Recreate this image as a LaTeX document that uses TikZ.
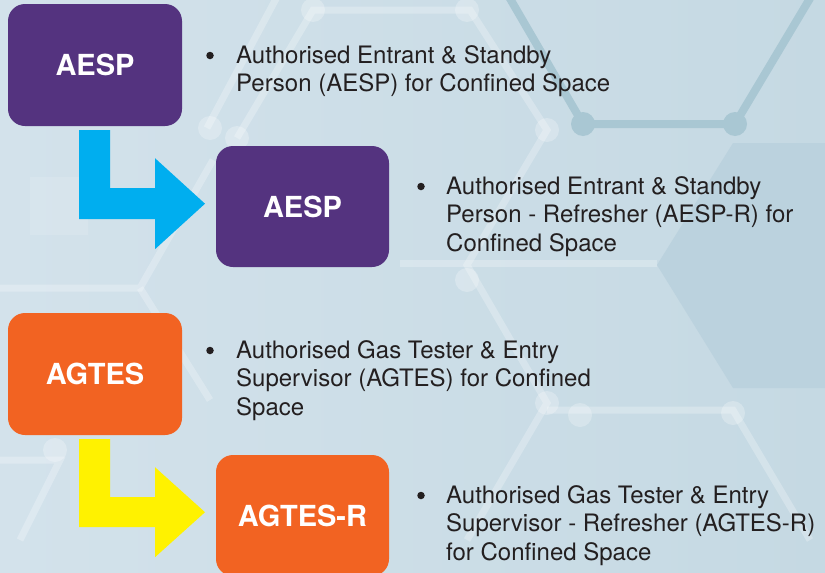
\documentclass[tikz,border=0pt]{standalone}
\usepackage{fontspec}
\setmainfont{TeX Gyre Heros}
\usetikzlibrary{calc}
\definecolor{bgA}{HTML}{D3E2EB}
\definecolor{bgB}{HTML}{C5D9E3}
\definecolor{hexdark}{HTML}{A9C7D3}
\definecolor{hexfill}{HTML}{BBD2DE}
\definecolor{boxpurple}{HTML}{54337F}
\definecolor{boxorange}{HTML}{F26322}
\definecolor{arrcyan}{HTML}{00AEEF}
\definecolor{arryellow}{HTML}{FFF200}
\definecolor{txt}{HTML}{231F20}
\tikzset{
  box/.style={rectangle, rounded corners=17pt, inner sep=0pt, text=white,
    font=\fontsize{29}{34}\selectfont\bfseries},
  purplebox/.style={box, fill=boxpurple},
  orangebox/.style={box, fill=boxorange},
  desc/.style={anchor=base west, align=left, inner sep=0pt, text=txt,
    font=\fontsize{24}{28.7}\selectfont},
  bul/.style={circle, fill=txt, inner sep=0pt, minimum size=7.5pt},
  lightline/.style={draw=white, draw opacity=0.25, line width=7pt},
  lightdot/.style={fill=white, fill opacity=0.25},
  darkline/.style={draw=hexdark, line width=8pt},
}
\begin{document}
\begin{tikzpicture}[x=1pt,y=-1pt]
\useasboundingbox (0,0) rectangle (825,573);
\clip (0,0) rectangle (825,573);
% background
\shade[left color=bgA, right color=bgB] (0,0) rectangle (825,573);
\fill[hexfill] (733,143) -- (830,143) -- (830,388) -- (733,388) -- (657,265) -- cycle;
\fill[white, opacity=0.12] (30,177) rectangle (88,235);
% light hex network
\draw[lightline] (237,138) -- (313,10) -- (470,10) -- (547,130) -- (467,265) -- (547,403) -- (467,540);
\draw[lightline] (278,-5) -- (207,128);
\draw[lightline] (400,263) -- (657,263);
\draw[lightline] (0,288) -- (140,288) -- (213,160);
\draw[lightline] (140,288) -- (210,400);
\draw[lightline] (547,410) -- (733,410) -- (810,540);
\draw[lightline] (0,460) -- (60,460) -- (20,540);
\foreach \p in {(313,10),(467,10),(547,130),(467,280),(547,403),(237,138),(210,128),(580,415),(733,413),(55,450)}
  \fill[lightdot] \p circle (12);
% dark hex network
\draw[darkline] (505,-10) -- (583,124) -- (735,124) -- (815,-10);
\fill[hexdark] (583,124) circle (12);
\fill[hexdark] (735,124) circle (12);
% boxes
\node[purplebox, minimum width=174pt, minimum height=122pt] (a1) at (95,65) {AESP};
\node[purplebox, minimum width=173pt, minimum height=121pt] (a2) at (302.5,206.5) {AESP};
\node[orangebox, minimum width=174pt, minimum height=122pt] (g1) at (95,374) {AGTES};
\node[orangebox, minimum width=173pt, minimum height=121pt] (g2) at (302.5,515.5) {AGTES-R};
% connectors (block arrows)
\fill[arrcyan] ($(a1.south)+(-16,4)$) -- ++(31,0) -- ++(0,58) -- ++(45,0) -- ++(0,-30)
  -- ++(50,45.5) -- ++(-50,45.5) -- ++(0,-30) -- ++(-76,0) -- cycle;
\fill[arryellow] ($(g1.south)+(-16,4)$) -- ++(31,0) -- ++(0,58) -- ++(45,0) -- ++(0,-30)
  -- ++(50,45) -- ++(-50,45) -- ++(0,-30) -- ++(-76,0) -- cycle;
% descriptions (base anchor = baseline of last line)
\node[bul] (b1) at (210,55.5) {};
\node[desc] (t1) at (236,91.7) {Authorised Entrant \& Standby\\Person (AESP) for Confined Space};
\node[bul] (b2) at (421,186.5) {};
\node[desc] (t2) at (446,251.4) {Authorised Entrant \& Standby\\Person - Refresher (AESP-R) for\\Confined Space};
\node[bul] (b3) at (210,350.5) {};
\node[desc] (t3) at (236,415.4) {Authorised Gas Tester \& Entry\\Supervisor (AGTES) for Confined\\Space};
\node[bul] (b4) at (421,495.5) {};
\node[desc] (t4) at (446,560.4) {Authorised Gas Tester \& Entry\\Supervisor - Refresher (AGTES-R)\\for Confined Space};
\end{tikzpicture}
\end{document}
